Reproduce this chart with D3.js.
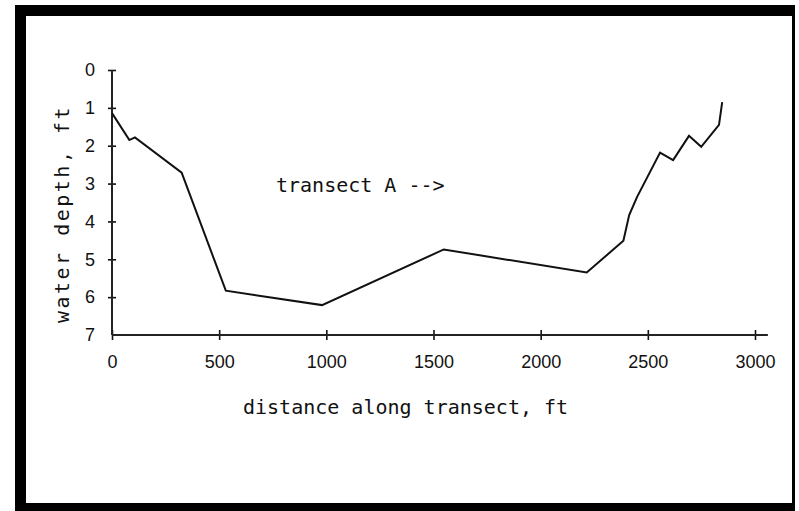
<!DOCTYPE html>
<html>
<head>
<meta charset="utf-8">
<script src="https://cdn.jsdelivr.net/npm/d3@7"></script>
<style>
  body { margin: 0; background: #fff; }
  svg { display: block; }
  .tick text { font-family: "Liberation Sans", Arial, sans-serif; font-size: 18px; fill: #111; }
  .lbl { font-family: "DejaVu Sans Mono", monospace; font-size: 20px; fill: #111; }
</style>
</head>
<body>
<div id="chart"></div>
<script>
// distance along transect (ft) and water depth (ft)
var distance = [0, 81, 107, 325, 531, 980, 1548, 2215, 2386, 2413, 2450, 2557, 2618, 2692, 2749, 2832, 2847];
var depth    = [1.14, 1.85, 1.78, 2.71, 5.83, 6.21, 4.74, 5.35, 4.51, 3.83, 3.35, 2.18, 2.38, 1.74, 2.03, 1.45, 0.85];

var xTicks = [0, 500, 1000, 1500, 2000, 2500, 3000];
var yTicks = [0, 1, 2, 3, 4, 5, 6, 7];
var xAxisEnd = 3060;   // x axis line runs a bit past the last tick

var width = 799, height = 511;

var svg = d3.select('#chart')
  .append('svg')
    .attr('width', width)
    .attr('height', height);

// frame
svg.append('rect')
  .attr('x', 15).attr('y', 5)
  .attr('width', 780).attr('height', 506)
  .style('fill', '#000');
svg.append('rect')
  .attr('x', 26).attr('y', 16)
  .attr('width', 766).attr('height', 487)
  .style('fill', '#fff');

var x = d3.scaleLinear().domain([0, 3000]).range([112, 755]);
var y = d3.scaleLinear().domain([0, 7]).range([70, 335]);

// x axis
var gx = svg.append('g')
  .attr('class', 'x axis')
  .attr('transform', 'translate(0,' + y(7) + ')')
  .call(d3.axisBottom(x).tickValues(xTicks).tickFormat(d3.format('d')).tickSize(5).tickPadding(15));
gx.select('.domain').remove();
gx.selectAll('.tick line').attr('y1', -5).attr('y2', 5)
  .style('stroke', '#111').style('stroke-width', 1.6);
gx.append('line')
  .attr('x1', x(0)).attr('x2', x(xAxisEnd))
  .style('stroke', '#222').style('stroke-width', 2);

// y axis
var gy = svg.append('g')
  .attr('class', 'y axis')
  .attr('transform', 'translate(' + x(0) + ',0)')
  .call(d3.axisLeft(y).tickValues(yTicks).tickFormat(d3.format('d')).tickSize(4).tickPadding(13));
gy.select('.domain').remove();
gy.selectAll('.tick line').attr('x1', -4).attr('x2', 4)
  .style('stroke', '#111').style('stroke-width', 1.6);
gy.selectAll('.tick')
  .filter(function(d) { return d === 7; })
  .select('line').remove();
gy.append('line')
  .attr('y1', y(0)).attr('y2', y(7))
  .style('stroke', '#222').style('stroke-width', 2);

// depth profile
var points = distance.map(function(d, i) { return [d, depth[i]]; });
var line = d3.line()
  .x(function(d) { return x(d[0]); })
  .y(function(d) { return y(d[1]); });

svg.append('path')
  .datum(points)
  .attr('d', line)
  .style('fill', 'none')
  .style('stroke', '#111')
  .style('stroke-width', 2)
  .style('stroke-linejoin', 'miter');

// labels
svg.append('text')
  .attr('class', 'lbl')
  .attr('x', 243).attr('y', 414)
  .text('distance along transect, ft');

svg.append('text')
  .attr('class', 'lbl')
  .attr('transform', 'translate(69,214) rotate(-90)')
  .attr('text-anchor', 'middle')
  .style('letter-spacing', '2.5px')
  .text('water depth, ft');

svg.append('text')
  .attr('class', 'lbl')
  .attr('x', 276).attr('y', 192)
  .text('transect A -->');
</script>
</body>
</html>
